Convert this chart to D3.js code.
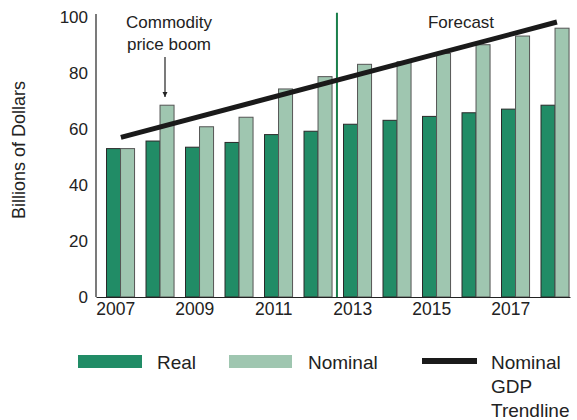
<!DOCTYPE html>
<html>
<head>
<meta charset="utf-8">
<script src="https://cdn.jsdelivr.net/npm/d3@7"></script>
<style>
  body { margin: 0; background: #fff; }
  svg { display: block; font-family: "Liberation Sans", Arial, sans-serif; }
</style>
</head>
<body>
<svg width="577" height="420"></svg>
<script>
// data
var years = [2007, 2008, 2009, 2010, 2011, 2012, 2013, 2014, 2015, 2016, 2017, 2018];
var realValues = [53, 55.7, 53.5, 55.2, 58, 59.2, 61.7, 63.1, 64.5, 65.8, 67.1, 68.5];
var nominalValues = [53, 68.5, 60.8, 64.2, 74.3, 78.7, 83.1, 84, 87, 90.1, 93.2, 96];
var trendYears = [2007.13, 2018.17];
var trendValues = [57, 98.2];
var forecastYear = 2012.6;
var yTicks = [0, 20, 40, 60, 80, 100];
var xTickYears = [2007, 2009, 2011, 2013, 2015, 2017];

var svg = d3.select("svg");
var realColor = "#218c66", nominalColor = "#9fc6b0", forecastColor = "#1a7f4b";

var x = d3.scaleBand().domain(years).range([96, 570]).padding(0);
var bw = x.bandwidth();
// year -> band centre, for trend line and forecast marker
var xc = d3.scaleLinear().domain([2007, 2018]).range([x(2007) + bw / 2, x(2018) + bw / 2]);
var y = d3.scaleLinear().domain([0, 100]).range([297, 17]);

var barW = bw * 0.355, barOff = bw * 0.266;

// bars
var g = svg.append("g");
g.selectAll("rect.real").data(years).enter().append("rect")
  .attr("class", "real")
  .attr("x", function(d){ return x(d) + barOff; })
  .attr("y", function(d, i){ return y(realValues[i]); })
  .attr("width", barW)
  .attr("height", function(d, i){ return y(0) - y(realValues[i]); })
  .attr("fill", realColor).attr("stroke", "#2a2a2a").attr("stroke-width", 1);
g.selectAll("rect.nom").data(years).enter().append("rect")
  .attr("class", "nom")
  .attr("x", function(d){ return x(d) + barOff + barW; })
  .attr("y", function(d, i){ return y(nominalValues[i]); })
  .attr("width", barW)
  .attr("height", function(d, i){ return y(0) - y(nominalValues[i]); })
  .attr("fill", nominalColor).attr("stroke", "#555").attr("stroke-width", 1);

// forecast marker
svg.append("line")
  .attr("x1", xc(forecastYear)).attr("x2", xc(forecastYear))
  .attr("y1", y(0)).attr("y2", y(101.5))
  .attr("stroke", forecastColor).attr("stroke-width", 2);

// trend line
var line = d3.line().x(function(d){ return xc(d[0]); }).y(function(d){ return y(d[1]); });
svg.append("path")
  .datum(trendYears.map(function(t, i){ return [t, trendValues[i]]; }))
  .attr("d", line).attr("fill", "none")
  .attr("stroke", "#1a1a1a").attr("stroke-width", 5);

// axes
var yAxis = svg.append("g").attr("transform", "translate(96,0)")
  .call(d3.axisLeft(y).tickValues(yTicks).tickSize(0).tickPadding(8));
yAxis.select(".domain").remove();
yAxis.selectAll("text").attr("font-size", 17).attr("fill", "#222").attr("font-family", "Liberation Sans, Arial, sans-serif");
svg.append("line").attr("x1", 96).attr("x2", 96).attr("y1", 14).attr("y2", y(0))
  .attr("stroke", "#222").attr("stroke-width", 1.2);

var xAxis = svg.append("g").attr("transform", "translate(0," + y(0) + ")")
  .call(d3.axisBottom(x).tickValues(xTickYears).tickSize(0).tickPadding(6));
xAxis.select(".domain").attr("stroke", "#222").attr("stroke-width", 1.2);
xAxis.selectAll("text").attr("font-size", 17.5).attr("fill", "#222").attr("font-family", "Liberation Sans, Arial, sans-serif");

svg.append("text")
  .attr("transform", "translate(25,150) rotate(-90)")
  .attr("text-anchor", "middle").attr("font-size", 18).attr("fill", "#222")
  .text("Billions of Dollars");

// annotations
var ann = svg.append("text").attr("text-anchor", "middle").attr("font-size", 17).attr("fill", "#222");
ann.append("tspan").attr("x", 169).attr("y", 28).text("Commodity");
ann.append("tspan").attr("x", 169).attr("y", 50).text("price boom");

svg.append("defs").append("marker")
  .attr("id", "arrow").attr("viewBox", "0 0 10 10").attr("refX", 10).attr("refY", 5)
  .attr("markerWidth", 5).attr("markerHeight", 9).attr("orient", "auto")
  .attr("markerUnits", "userSpaceOnUse")
  .append("path").attr("d", "M0,0L10,5L0,10Z").attr("fill", "#222");
svg.append("line").attr("x1", 165).attr("x2", 165).attr("y1", 57).attr("y2", 97)
  .attr("stroke", "#222").attr("stroke-width", 1.2).attr("marker-end", "url(#arrow)");

svg.append("text").attr("x", 461).attr("y", 28).attr("text-anchor", "middle")
  .attr("font-size", 17).attr("fill", "#222").text("Forecast");

// legend
var leg = svg.append("g");
leg.append("rect").attr("x", 78).attr("y", 355).attr("width", 64).attr("height", 13).attr("fill", realColor);
leg.append("text").attr("x", 157).attr("y", 369).attr("font-size", 19).attr("fill", "#222").text("Real");
leg.append("rect").attr("x", 229).attr("y", 355).attr("width", 63).attr("height", 13).attr("fill", nominalColor);
leg.append("text").attr("x", 308).attr("y", 369).attr("font-size", 19).attr("fill", "#222").text("Nominal");
leg.append("line").attr("x1", 422).attr("x2", 477).attr("y1", 361).attr("y2", 361)
  .attr("stroke", "#1a1a1a").attr("stroke-width", 6);
var lt = leg.append("text").attr("font-size", 19).attr("fill", "#222");
["Nominal", "GDP", "Trendline"].forEach(function(s, i){
  lt.append("tspan").attr("x", 491).attr("y", 369 + i * 24).text(s);
});
</script>
</body>
</html>
